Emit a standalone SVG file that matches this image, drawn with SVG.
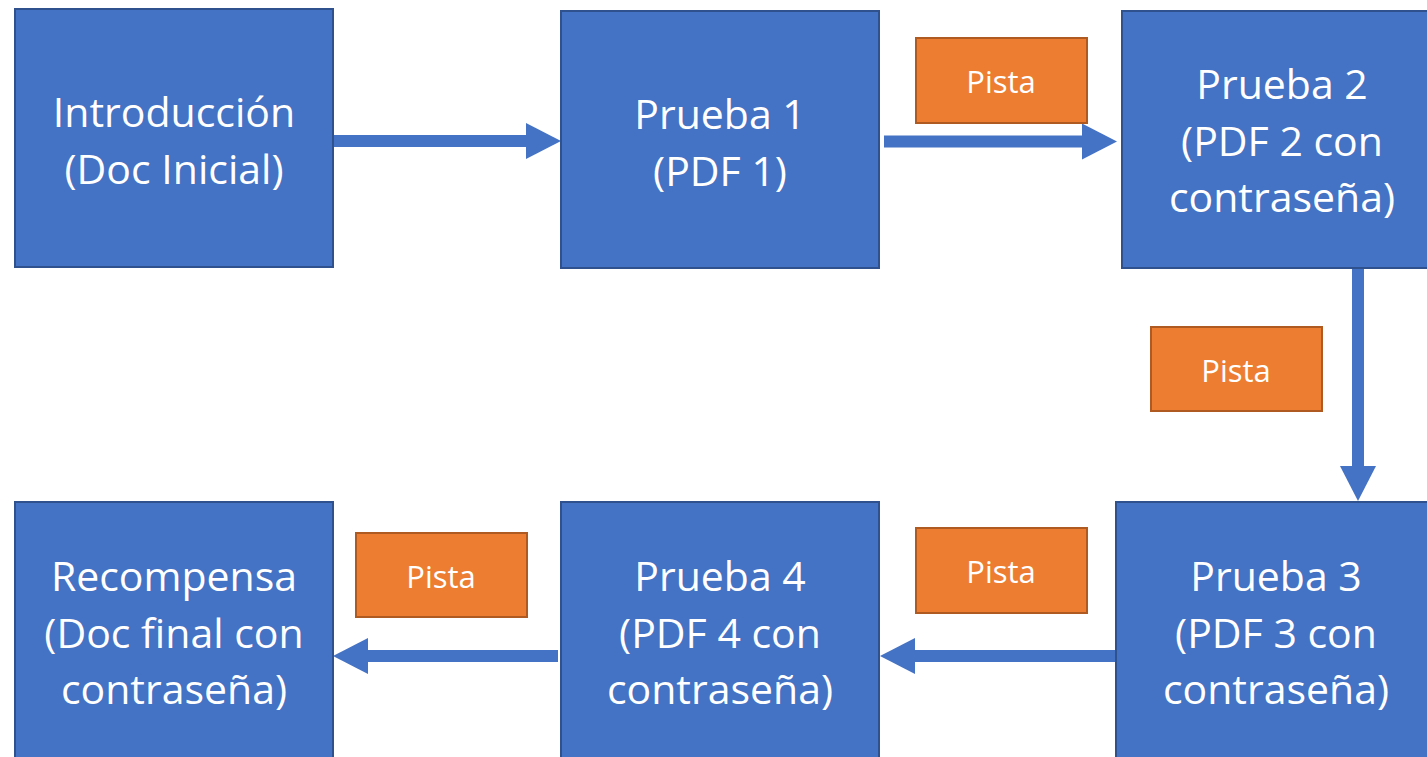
<svg xmlns="http://www.w3.org/2000/svg" width="1427" height="757" viewBox="0 0 1427 757">
  <style>
    .step { fill: #4472C4; stroke: #2F528F; stroke-width: 2; }
    .hint { fill: #ED7D31; stroke: #AE5A21; stroke-width: 2; }
    .lbl { fill: #FFFFFF; font-family: "Open Sans", "Noto Sans", sans-serif; text-anchor: middle; }
    .big { font-size: 41px; }
    .small { font-size: 31px; }
    .flow { stroke: #4472C4; stroke-width: 12; fill: none; marker-end: url(#head); }
  </style>
  <defs>
    <marker id="head" viewBox="0 0 35 36" markerWidth="35" markerHeight="36" markerUnits="userSpaceOnUse" refX="0" refY="18" orient="auto">
      <path d="M0,0 L35,18 L0,36 Z" fill="#4472C4"/>
    </marker>
  </defs>
  <rect width="1427" height="757" fill="#FFFFFF"/>

  <g id="connectors">
    <line class="flow" x1="333" y1="141" x2="526" y2="141"/>
    <line class="flow" x1="884" y1="141.5" x2="1082" y2="141.5"/>
    <line class="flow" x1="1358" y1="268" x2="1358" y2="466"/>
    <line class="flow" x1="1117" y1="656" x2="915" y2="656"/>
    <line class="flow" x1="558" y1="656" x2="368" y2="656"/>
  </g>

  <g id="intro">
    <rect class="step" x="15" y="9" width="318" height="258"/>
    <text class="lbl big" x="174" y="127">Introducción</text>
    <text class="lbl big" x="174" y="184">(Doc Inicial)</text>
  </g>

  <g id="prueba1">
    <rect class="step" x="561" y="11" width="318" height="257"/>
    <text class="lbl big" x="720" y="129">Prueba 1</text>
    <text class="lbl big" x="720" y="186">(PDF 1)</text>
  </g>

  <g id="prueba2">
    <rect class="step" x="1122" y="11" width="320" height="257"/>
    <text class="lbl big" x="1282" y="99">Prueba 2</text>
    <text class="lbl big" x="1282" y="156">(PDF 2 con</text>
    <text class="lbl big" x="1282" y="212">contraseña)</text>
  </g>

  <g id="prueba3">
    <rect class="step" x="1116" y="502" width="330" height="270"/>
    <text class="lbl big" x="1276" y="591">Prueba 3</text>
    <text class="lbl big" x="1276" y="648">(PDF 3 con</text>
    <text class="lbl big" x="1276" y="704">contraseña)</text>
  </g>

  <g id="prueba4">
    <rect class="step" x="561" y="502" width="318" height="270"/>
    <text class="lbl big" x="720" y="591">Prueba 4</text>
    <text class="lbl big" x="720" y="648">(PDF 4 con</text>
    <text class="lbl big" x="720" y="704">contraseña)</text>
  </g>

  <g id="recompensa">
    <rect class="step" x="15" y="502" width="318" height="270"/>
    <text class="lbl big" x="174" y="591">Recompensa</text>
    <text class="lbl big" x="174" y="648">(Doc final con</text>
    <text class="lbl big" x="174" y="704">contraseña)</text>
  </g>

  <g id="pista1">
    <rect class="hint" x="916" y="38" width="171" height="85"/>
    <text class="lbl small" x="1001" y="93">Pista</text>
  </g>

  <g id="pista2">
    <rect class="hint" x="1151" y="327" width="171" height="84"/>
    <text class="lbl small" x="1236" y="382">Pista</text>
  </g>

  <g id="pista3">
    <rect class="hint" x="916" y="528" width="171" height="85"/>
    <text class="lbl small" x="1001" y="583">Pista</text>
  </g>

  <g id="pista4">
    <rect class="hint" x="356" y="533" width="171" height="84"/>
    <text class="lbl small" x="441" y="588">Pista</text>
  </g>
</svg>
